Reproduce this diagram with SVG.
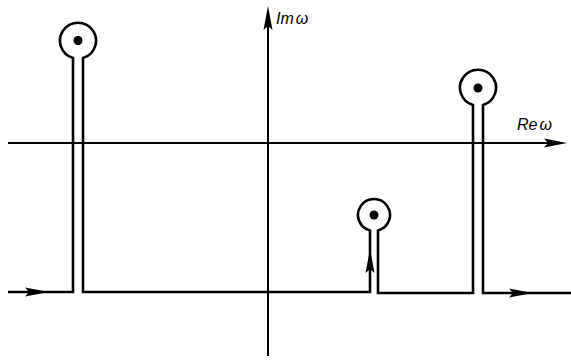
<svg xmlns="http://www.w3.org/2000/svg" width="571" height="363" viewBox="0 0 571 363">
<style>
.ax{stroke:#000;stroke-width:2;fill:none}
.ct{stroke:#000;stroke-width:2.6;fill:none;stroke-linejoin:miter}
.ah{fill:#000}
.lb{font-family:"Liberation Sans",Arial,sans-serif;font-style:italic;font-size:16px;fill:#000}
</style>
<rect width="571" height="363" fill="#fff"/>
<g id="axes">
<line class="ax" x1="8" y1="143" x2="560" y2="143"/>
<polygon class="ah" points="567,143 544,138.5 548,143 544,147.5"/>
<line class="ax" x1="268" y1="20" x2="268" y2="356"/>
<polygon class="ah" points="268,6 263.5,30 268,26 272.5,30"/>
</g>
<g id="labels">
<text class="lb" x="276" y="24">Im<tspan dx="2">ω</tspan></text>
<text class="lb" x="517" y="130">Re<tspan dx="2">ω</tspan></text>
</g>
<g id="connectors">
<path class="ct" d="M 8 292 H 73 V 58 A 18 18 0 1 1 83 58 V 292 H 370 V 230.5 A 16 16 0 1 1 378 230.5 V 293 H 473 V 105 A 18 18 0 1 1 483 105 V 293 H 571"/>
<polygon class="ah" points="49,292 25,287.5 29,292 25,296.5"/>
<polygon class="ah" points="533,293 509,288.5 513,293 509,297.5"/>
<polygon class="ah" points="370,249 365.5,273 370,269 374.5,273"/>
</g>
<g id="pole1"><circle class="ah" cx="78" cy="40.5" r="4.5"/></g>
<g id="pole2"><circle class="ah" cx="374" cy="215" r="4.5"/></g>
<g id="pole3"><circle class="ah" cx="478" cy="88" r="4.5"/></g>
</svg>
